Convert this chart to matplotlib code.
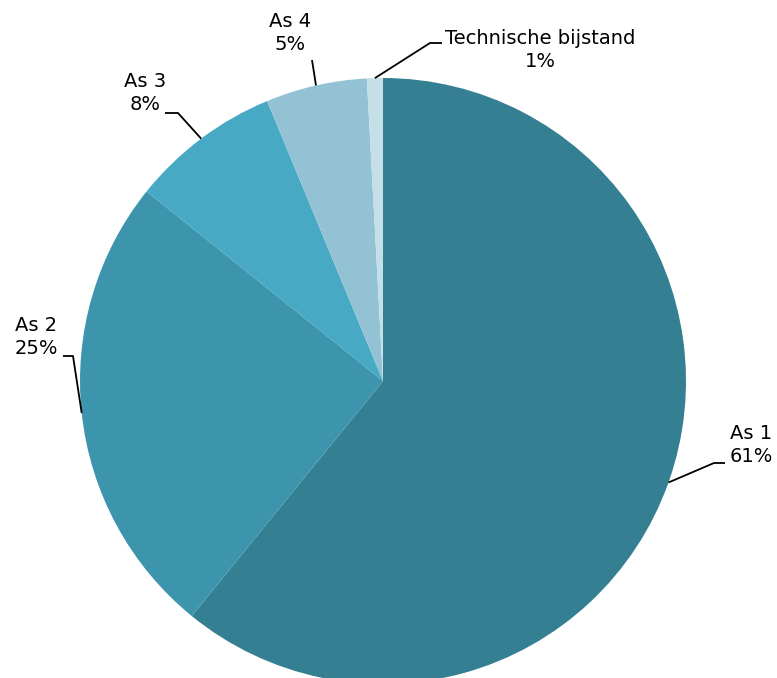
import numpy as np
import matplotlib.pyplot as plt

labels = ['As 1', 'As 2', 'As 3', 'As 4', 'Technische bijstand']
values = [60.9, 24.9, 8.0, 5.4, 0.85]
colors = ['#347f92', '#3d95ad', '#47a9c4', '#92c2d4', '#c4dfe8']

W, H = 777, 678
fig = plt.figure(figsize=(W / 100, H / 100), dpi=100)
ax = fig.add_axes([0, 0, 1, 1])
ax.set_xlim(0, W)
ax.set_ylim(0, H)
ax.set_aspect('equal')
ax.axis('off')

cx, cy, r = 383, H - 381, 303
wedges, _ = ax.pie(values, colors=colors, startangle=90, counterclock=False,
                   center=(cx, cy), radius=r, frame=True,
                   wedgeprops=dict(linewidth=0))
ax.set_xlim(0, W)
ax.set_ylim(0, H)
ax.axis('off')

# label layout (image pixel coords, y down): text centre, leader elbow points
layout = [
    ((751, 445), [(714, 463), (725, 463)]),
    ((36, 337), [(73, 356), (63, 356)]),
    ((145, 93), [(178, 113), (165, 113)]),
    ((290, 33), [(312, 60)]),
    ((540, 50), [(430, 43), (442, 43)]),
]

total = sum(values)
for w, lab, v, (tpos, pts) in zip(wedges, labels, values, layout):
    ang = np.deg2rad((w.theta1 + w.theta2) / 2)
    ax_ = cx + r * np.cos(ang)
    ay_ = cy + r * np.sin(ang)
    xs = [ax_] + [p[0] for p in pts]
    ys = [ay_] + [H - p[1] for p in pts]
    ax.plot(xs, ys, color='black', lw=1.3, solid_capstyle='butt')
    pct = round(v / total * 100)
    ax.text(tpos[0], H - tpos[1], f'{lab}\n{pct}%', ha='center', va='center',
            fontsize=14, linespacing=1.3, color='black')

plt.savefig('out.png', dpi=100)
